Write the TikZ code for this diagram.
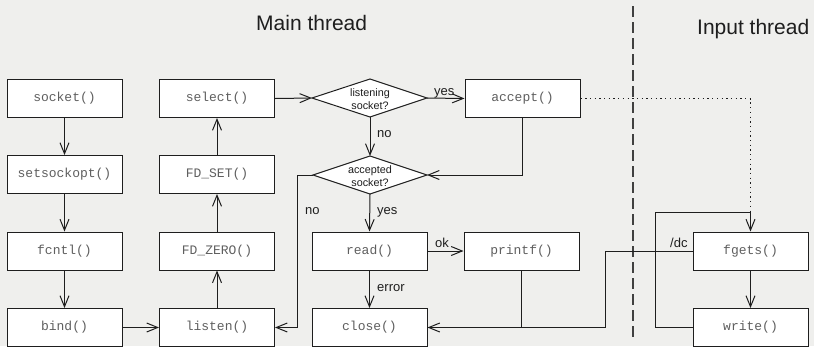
\documentclass[tikz,border=0pt]{standalone}
\usepackage{fontspec}
\setmainfont{Liberation Sans}
\newfontfamily\monof{Liberation Mono}
\usetikzlibrary{arrows.meta,calc}
\definecolor{bg}{RGB}{239,239,237}
\definecolor{tx}{RGB}{95,95,95}
\definecolor{ln}{RGB}{30,30,30}
\begin{document}
\begin{tikzpicture}[x=1pt,y=-1pt,
  fbox/.style={draw=ln,fill=white,line width=1pt,minimum width=115pt,minimum height=38pt,inner sep=0pt,font=\monof\fontsize{13}{15}\selectfont,text=tx},
  conn/.style={line width=1pt,draw=ln},
  arr/.style={conn,-{Straight Barb[length=11pt,width=9pt,line width=1pt]}},
  lbl/.style={font=\fontsize{13}{15}\selectfont,text=ln,inner sep=0pt,anchor=base west},
  ttl/.style={font=\fontsize{21}{24}\selectfont,text=ln,inner sep=0pt,anchor=base west},
  dtext/.style={font=\fontsize{10.8}{13}\selectfont,text=ln,inner sep=0pt,align=center},
  diam/.style={draw=ln,fill=white,line width=1pt,line join=miter},
  dots/.style={line width=1.3pt,draw=ln,dash pattern=on 1.3pt off 3.4pt},
  divider/.style={line width=1.1pt,draw=black!75,dash pattern=on 11pt off 5pt}
]
\fill[bg] (0,0) rectangle (814,346);
\useasboundingbox (0,0) rectangle (814,346);

% titles
\node[ttl] (tmain) at (256,30) {Main thread};
\node[ttl] (tinput) at (697,34) {Input thread};

% divider
\coordinate (dvt) at (633,6);
\coordinate (dvb) at (633,341);
\draw[divider] (dvt) -- (dvb);

% boxes
\node[fbox] (socket) at (64.5,98.5) {socket()};
\node[fbox] (setsock) at (64.5,174.5) {setsockopt()};
\node[fbox] (fcntl) at (64.5,251) {fcntl()};
\node[fbox] (bind) at (64.5,327.5) {bind()};
\node[fbox] (select) at (217,98.5) {select()};
\node[fbox] (fdset) at (217,174.5) {FD\_SET()};
\node[fbox] (fdzero) at (217,251) {FD\_ZERO()};
\node[fbox] (listen) at (217,327.5) {listen()};
\node[fbox] (accept) at (522.5,98.5) {accept()};
\node[fbox] (read) at (369.5,251) {read()};
\node[fbox] (close) at (369.5,327.5) {close()};
\node[fbox] (printf) at (521.5,251) {printf()};
\node[fbox] (fgets) at (750.5,251) {fgets()};
\node[fbox] (write) at (750.5,327.5) {write()};

% diamonds
\coordinate (d1w) at (312,98);
\coordinate (d1e) at (427,98);
\coordinate (d1n) at (370,79);
\coordinate (d1s) at (370,117);
\draw[diam] (d1w) -- (d1n) -- (d1e) -- (d1s) -- cycle;
\node[dtext] (d1) at (370,99) {listening\\socket?};
\coordinate (d2w) at (313,175);
\coordinate (d2e) at (427,175);
\coordinate (d2n) at (370,156);
\coordinate (d2s) at (370,194);
\draw[diam] (d2w) -- (d2n) -- (d2e) -- (d2s) -- cycle;
\node[dtext] (d2) at (370,176) {accepted\\socket?};

% connectors
\draw[arr] (socket) -- (setsock);
\draw[arr] (setsock) -- (fcntl);
\draw[arr] (fcntl) -- (bind);
\draw[arr] (bind) -- (listen);
\draw[arr] (listen) -- (fdzero);
\draw[arr] (fdzero) -- (fdset);
\draw[arr] (fdset) -- (select);
\draw[arr] (select.east) -- (d1w);
\draw[arr] (d1e) -- (accept.west);
\draw[arr] (d1s) -- (d2n);
\draw[arr] (accept.south) |- (d2e);
\draw[arr] (d2w) -- ++(-16,0) |- (listen.east);
\draw[arr] (d2s) -- (read.north);
\draw[arr] (read) -- (printf);
\draw[arr] (read) -- (close);
\draw[conn] (printf.south) -- (printf.south |- close.east);
\draw[arr] (fgets.west) -- ++(-87,0) |- (close.east);
\path (fgets.north) ++(0,-19) coordinate (j);
\draw[dots] (accept.east) -| (j);
\draw[arr] (write.west) -- ++(-37,0) |- (j) -- (fgets.north);
\draw[arr] (fgets) -- (write);

% labels
\node[lbl] (lyes1) at (434,95) {yes};
\node[lbl] (lno1) at (377,137) {no};
\node[lbl] (lyes2) at (377,214) {yes};
\node[lbl] (lno2) at (305,214) {no};
\node[lbl] (lok) at (435,247) {ok};
\node[lbl] (lerr) at (377,291) {error};
\node[lbl] (ldc) at (670,247) {/dc};
\end{tikzpicture}
\end{document}
